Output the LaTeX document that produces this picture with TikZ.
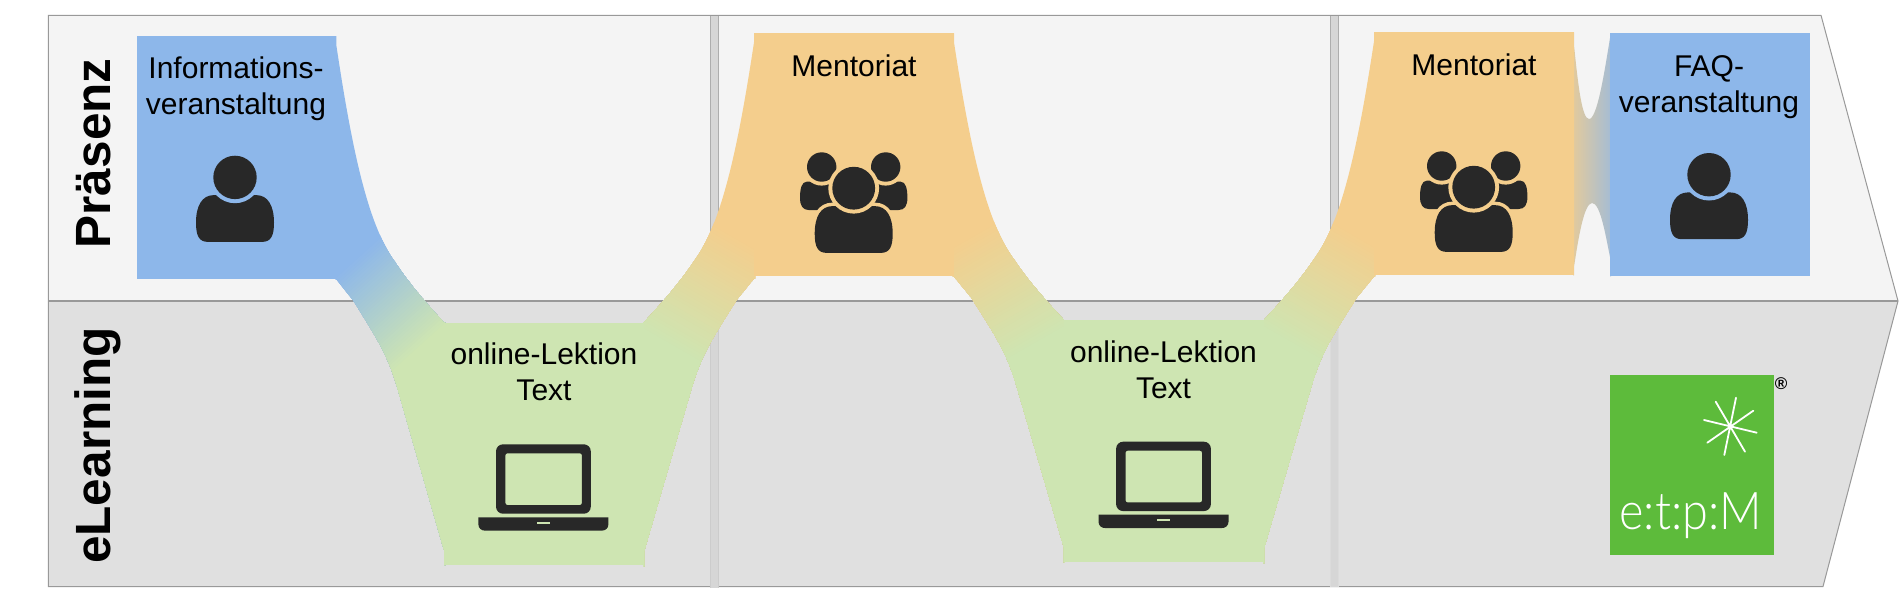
\documentclass[tikz,border=0pt]{standalone}
\usepackage{fontspec}
\setmainfont{Liberation Sans}
\newfontfamily\logofont{Lato Light}
\definecolor{cblue}{HTML}{8DB7EA}
\definecolor{corange}{HTML}{F4CE8D}
\definecolor{cgreen}{HTML}{CEE5B2}
\definecolor{cupper}{HTML}{F4F4F4}
\definecolor{clower}{HTML}{E0E0E0}
\definecolor{cframe}{HTML}{999999}
\definecolor{cdiv}{HTML}{D6D6D6}
\definecolor{cdark}{HTML}{282828}
\definecolor{clogo}{HTML}{5DBB3B}
\tikzset{
  boxlabel/.style={inner sep=0pt,align=center,anchor=base,font=\fontsize{30}{36}\selectfont,text=black},
  rowlabel/.style={inner sep=0pt,anchor=base west,rotate=90,font=\fontsize{49.5}{54}\selectfont\bfseries,text=black},
  icon/.style={fill=cdark},
}
\newcommand\wingaxis[4]{\def\gpx{#1}\def\gpy{#2}\def\gdx{#3}\def\gdy{#4}}
% connecting wing between an upper box and a lower box
\newcommand\wing[6]{%
  \begin{scope}[shift={(#1,#2)},xscale=#3,yscale=#4]
    \clip (-1,0) -- (0,0) -- (0,9) .. controls (15.7,114) and (31.7,189) .. (58.7,226)
      .. controls (73.7,249) and (91.7,269) .. (107.7,286.7) -- (108.7,286.7) -- (108.7,529)
      -- (107.7,529) -- (107.7,514) -- (61.7,354) .. controls (51.7,319) and (41.7,304) .. (16.7,264)
      -- (0,243.3) -- (-1,243.3) -- cycle;
    \fill[#5] (-10,-10) rectangle (120,540);
    \foreach \i in {0,...,40}{
      \pgfmathsetmacro\ta{\i/40}
      \pgfmathsetmacro\pc{\i*2.5}
      \pgfmathsetmacro\ax{\gpx+\ta*\gdx}
      \pgfmathsetmacro\ay{\gpy+\ta*\gdy}
      \fill[#6!\pc!#5] (\ax-4*\gdy,\ay+4*\gdx) -- (\ax+4*\gdy,\ay-4*\gdx)
        -- (\ax+4*\gdy+6*\gdx,\ay-4*\gdx+6*\gdy) -- (\ax-4*\gdy+6*\gdx,\ay+4*\gdx+6*\gdy) -- cycle;
    }
  \end{scope}}
\def\bodypath{(-39,67) .. controls (-39,50) and (-33,39.4) .. (-21,39.4) -- (21,39.4)
       .. controls (33,39.4) and (39,50) .. (39,67) .. controls (39,80) and (36,86.2) .. (27,86.2)
       -- (-27,86.2) .. controls (-36,86.2) and (-39,80) .. (-39,67) -- cycle}
\newcommand\personicon[3]{% x, y of head top, ring colour
  \begin{scope}[shift={(#1,#2)}]
    \fill[icon] \bodypath;
    \fill[#3] (0,21.7) circle [radius=25.8];
    \fill[icon] (0,21.7) circle [radius=21.7];
  \end{scope}}
\newcommand\groupicon[3]{%
  \begin{scope}[shift={(#1,#2)}]
    \foreach \s in {-1,1}{
      \begin{scope}[xscale=\s]
        \fill[icon] (53.7,31) .. controls (53.7,22) and (52,15) .. (47,15) -- (20,15) -- (20,43.3) -- (45,43.3)
           .. controls (51,43.3) and (53.7,39) .. (53.7,31) -- cycle;
        \fill[#3] (32,0.3) circle [radius=18.6];
        \fill[icon] (32,0.3) circle [radius=14.7];
      \end{scope}}
    \fill[#3,draw=#3,line width=7pt] \bodypath;
    \fill[icon] \bodypath;
    \fill[#3] (0,21.5) circle [radius=25.4];
    \fill[icon] (0,21.5) circle [radius=21.4];
  \end{scope}}
\newcommand\laptopicon[2]{%
  \begin{scope}[shift={(#1,#2)}]
    \fill[icon,even odd rule,rounded corners=7pt] (-47.4,0) rectangle (47.4,69.4)
       [rounded corners=2pt] (-38,9) rectangle (38.5,60.7);
    \fill[icon] (-65,73) -- (65,73) -- (65,80) .. controls (65,84) and (62,86.4) .. (58,86.4) -- (-58,86.4)
       .. controls (-62,86.4) and (-65,84) .. (-65,80) -- cycle;
    \fill[cgreen] (-6.2,77.4) rectangle (6.4,79.4);
  \end{scope}}
\begin{document}
\begin{tikzpicture}[x=1pt,y=-1pt]
\useasboundingbox (0,0) rectangle (1900,600);
% bands
\fill[cupper] (48.4,15.3) -- (1821,15.3) -- (1898,301) -- (48.4,301) -- cycle;
\fill[clower] (48.4,301) -- (1898,301) -- (1823,586.5) -- (48.4,586.5) -- cycle;
\draw[cframe,line width=1pt] (48.4,301) -- (48.4,15.3) -- (1821,15.3) -- (1898,301);
\draw[cframe,line width=1pt] (48.4,301) -- (48.4,586.5) -- (1823,586.5) -- (1898,301);
\draw[cframe,line width=2pt] (48.4,301) -- (1898,301);
% dividers
\fill[cdiv] (710,15.8) rectangle (718.4,587.6);
\draw[cframe!80!white,line width=0.8pt] (710,15.8) -- (710,301) (718.4,15.8) -- (718.4,301);
\draw[cframe!50!white,line width=0.8pt] (710,301) -- (710,587.6) (718.4,301) -- (718.4,587.6);
\fill[cdiv] (1330,15.8) rectangle (1338.4,586.5);
\draw[cframe!80!white,line width=0.8pt] (1330,15.8) -- (1330,301) (1338.4,15.8) -- (1338.4,301);
\draw[cframe!35!white,line width=0.8pt] (1330,301) -- (1330,586.5) (1338.4,301) -- (1338.4,586.5);
% wings
\wingaxis{20.4}{219.7}{73}{81}
\wing{336.3}{36}{1}{1}{cblue}{cgreen}
\wingaxis{5}{208}{63}{108}
\wing{754}{33.3}{-1.021}{1.008}{corange}{cgreen}
\wing{954}{33.3}{1.02}{1}{corange}{cgreen}
\wing{1374}{32.3}{-1.021}{1.0035}{corange}{cgreen}
% neck between Mentoriat and FAQ
\begin{scope}
  \clip (1573,32.3) -- (1574,32.3) -- (1574,45) .. controls (1578,85) and (1582,119) .. (1589,119)
     .. controls (1597,119) and (1604,75) .. (1610,38) -- (1610,33.3) -- (1611,33.3) -- (1611,276.3) -- (1610,276.3) -- (1610,257)
     .. controls (1605,232) and (1600,203) .. (1592,203) .. controls (1584,203) and (1578,240) .. (1574,267)
     -- (1574,275.3) -- (1573,275.3) -- cycle;
  \shade[left color=corange,right color=cblue] (1562,20) rectangle (1626,290);
\end{scope}
% boxes
\fill[cblue] (136.5,36) rectangle (336.3,279.3);
\fill[corange] (754,33.3) rectangle (954,276);
\fill[cgreen] (444,322.7) rectangle (644,565);
\fill[cgreen] (1063.8,320) rectangle (1264,562.3);
\fill[corange] (1374,32.3) rectangle (1574,275.3);
\fill[cblue] (1610,33.3) rectangle (1810,276.3);
% row labels
\node[rowlabel] (praesenz) at (110,248.5) {Präsenz};
\node[rowlabel] (elearning) at (110,564) {eLearning};
% box labels
\node[boxlabel] (info) at (236,114) {Informations-\\veranstaltung};
\node[boxlabel] (ment1) at (854,76) {Mentoriat};
\node[boxlabel] (ment2) at (1474,75) {Mentoriat};
\node[boxlabel] (faq) at (1709,112.5) {FAQ-\\veranstaltung};
\node[boxlabel] (onl1) at (544,400) {online-Lektion\\Text};
\node[boxlabel] (onl2) at (1163.5,398.5) {online-Lektion\\Text};
% icons
\personicon{235}{155.7}{cblue}
\personicon{1709}{153}{cblue}
\groupicon{853.7}{166.7}{corange}
\groupicon{1473.7}{165.7}{corange}
\laptopicon{543.4}{444.3}
\laptopicon{1163.5}{441.7}
% logo
\fill[clogo] (1610,375) rectangle (1773.7,555);
\draw[white,line width=1.8pt,line cap=round]
  (1736,397.7) -- (1724.3,455)
  (1715.7,401.7) -- (1745,451.7)
  (1753.3,410.7) -- (1707.3,442.7)
  (1704,420) -- (1756.7,432.7);
\node[inner sep=0pt,anchor=base,text=white,xscale=0.9,font=\logofont\fontsize{52}{52}\selectfont] (logo) at (1690.7,529.3) {e:t:p:M};
\node[inner sep=0pt,text=black,font=\fontsize{17}{17}\selectfont\bfseries] (reg) at (1781,383.3) {®};
\end{tikzpicture}
\end{document}
